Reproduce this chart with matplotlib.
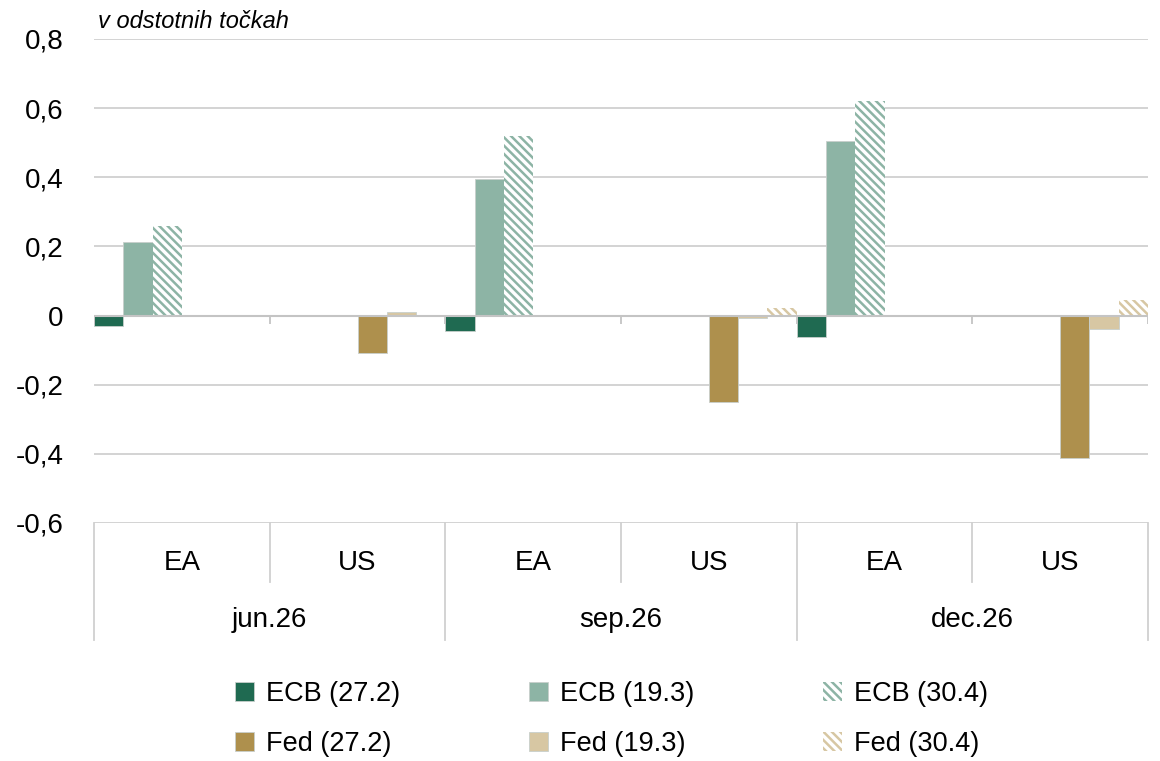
import numpy as np
import matplotlib
matplotlib.use("Agg")
import matplotlib.pyplot as plt
from matplotlib.ticker import FuncFormatter, FixedLocator

plt.rcParams['font.family'] = ['Liberation Sans Narrow', 'Liberation Sans', 'DejaVu Sans']
plt.rcParams['hatch.linewidth'] = 1.8

# data
regions = ['EA', 'US', 'EA', 'US', 'EA', 'US']
dates = ['jun.26', 'sep.26', 'dec.26']
series = ['ECB (27.2)', 'ECB (19.3)', 'ECB (30.4)', 'Fed (27.2)', 'Fed (19.3)', 'Fed (30.4)']
nan = np.nan
ecb_272 = [-0.03, nan, -0.044, nan, -0.063, nan]
ecb_193 = [0.212, nan, 0.395, nan, 0.505, nan]
ecb_304 = [0.26, nan, 0.518, nan, 0.62, nan]
fed_272 = [nan, -0.108, nan, -0.25, nan, -0.413]
fed_193 = [nan, 0.01, nan, -0.008, nan, -0.04]
fed_304 = [nan, -0.003, nan, 0.022, nan, 0.045]
values = [ecb_272, ecb_193, ecb_304, fed_272, fed_193, fed_304]

colors = ['#1F6A51', '#8DB4A5', '#8DB4A5', '#AE904D', '#D7C7A3', '#D7C7A3']
hatched = [False, False, True, False, False, True]

fig = plt.figure(figsize=(11.6, 7.61), dpi=100)
ax = fig.add_axes([94/1160, 1-523/761, (1148-94)/1160, 484/761])

x = np.arange(len(regions))
w = 1/6
bars = {}
for i, (name, vals) in enumerate(zip(series, values)):
    pos = x + w*i + w/2
    if hatched[i]:
        b = ax.bar(pos, vals, width=w, facecolor='white', edgecolor=colors[i],
                   hatch='\\\\\\\\', linewidth=0, zorder=3, label=name)
    else:
        b = ax.bar(pos, vals, width=w, color=colors[i], edgecolor='#c8cfcc',
                   linewidth=0.6, zorder=3, label=name)
    bars[name] = b

ax.set_xlim(0, 6)
ax.set_ylim(-0.6, 0.8)
ax.yaxis.set_major_locator(FixedLocator(np.arange(-0.6, 0.81, 0.2)))
ax.yaxis.set_major_formatter(FuncFormatter(
    lambda v, p: '0' if abs(v) < 1e-9 else f'{v:.1f}'.replace('.', ',')))
ax.tick_params(axis='y', length=0, pad=22, labelsize=20)
ax.set_xticks([])
for s in ax.spines.values():
    s.set_visible(False)
ax.yaxis.grid(True, color='#D0D0D0', linewidth=1.3, zorder=0)
ax.axhline(0, color='#C4C4C4', linewidth=1.5, zorder=4)

# ticks on the zero line at category boundaries
ax.vlines(np.arange(0, 7), -0.025, 0, color='#C4C4C4', linewidth=1.3, zorder=4)

# category axis labels below
trans = ax.get_xaxis_transform()
for i, r in enumerate(regions):
    ax.text(i + 0.5, -0.082, r, transform=trans, ha='center', va='center', fontsize=20)
for j, d in enumerate(dates):
    ax.text(2*j + 1, -0.2, d, transform=trans, ha='center', va='center', fontsize=20)
for b in [1, 3, 5]:
    ax.plot([b, b], [0, -0.122], transform=trans, color='#D0D0D0', lw=1.3, clip_on=False)
for b in [0, 2, 4, 6]:
    ax.plot([b, b], [0, -0.242], transform=trans, color='#D0D0D0', lw=1.3, clip_on=False)

fig.text(98/1160, 1-21/761, 'v odstotnih točkah', style='italic', fontsize=17,
         ha='left', va='center')

order = ['ECB (27.2)', 'Fed (27.2)', 'ECB (19.3)', 'Fed (19.3)', 'ECB (30.4)', 'Fed (30.4)']
fig.legend([bars[n] for n in order], order, ncol=3, loc='center',
           bbox_to_anchor=(0.527, 1-719/761), frameon=False, fontsize=19.5,
           handlelength=0.7, handleheight=0.7, handletextpad=0.45,
           columnspacing=4.75, labelspacing=0.9)

fig.savefig('out.png', dpi=100)
